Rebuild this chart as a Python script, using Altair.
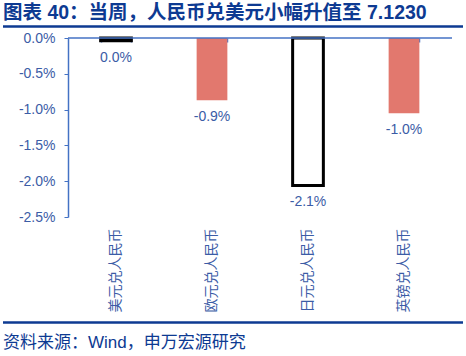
import altair as alt
import pandas as pd

categories = ["美元兑人民币", "欧元兑人民币", "日元兑人民币", "英镑兑人民币"]
values = [-0.04, -0.87, -2.06, -1.05]
value_labels = ["0.0%", "-0.9%", "-2.1%", "-1.0%"]
fills = ["#000000", "#e2786e", "#ffffff", "#e2786e"]
outlined = ["美元兑人民币", "日元兑人民币"]
y_ticks = [0, -0.5, -1.0, -1.5, -2.0, -2.5]

title_text = "图表 40：当周，人民币兑美元小幅升值至 7.1230"
source_text = "资料来源：Wind，申万宏源研究"

FONT = "Liberation Sans, Arial, Noto Sans CJK SC"
BLUE_AXIS = "#4472c4"
LABEL_BLUE = "#3b5ca6"
NAVY = "#0d3a92"

df = pd.DataFrame({"cat": categories, "val": values, "lab": value_labels})

xscale = alt.Scale(domain=categories, paddingInner=0.68, paddingOuter=0.34)
yscale = alt.Scale(domain=[-2.5, 0], nice=False, zero=False)
fill_enc = alt.Fill("cat:N", scale=alt.Scale(domain=categories, range=fills), legend=None)

yaxis = alt.Axis(values=y_ticks, grid=False, domainColor=BLUE_AXIS, tickColor=BLUE_AXIS,
                 tickSize=4, labelPadding=9, labelFontSize=14, labelColor=LABEL_BLUE,
                 labelFont=FONT, domainWidth=1.5, labelOverlap=False, labelFlush=False,
                 labelBound=False,
                 labelExpr="replace(format(datum.value, '.1f'), '\u2212', '-') + '%'")

base = alt.Chart(df)

bars = base.mark_bar().encode(
    x=alt.X("cat:N", scale=xscale, sort=categories, title=None,
            axis=alt.Axis(orient="bottom", domain=False, ticks=False, labelAngle=-90,
                          labelPadding=11, labelFontSize=14, labelColor=LABEL_BLUE,
                          labelFont=FONT, labelLimit=200)),
    y=alt.Y("val:Q", scale=yscale, title=None, axis=yaxis),
    y2=alt.datum(0),
    fill=fill_enc,
).transform_filter(alt.FieldOneOfPredicate(field="cat", oneOf=[c for c in categories if c not in outlined]))

outline_bars = base.mark_bar(stroke="#000000", strokeWidth=3).encode(
    x=alt.X("cat:N", scale=xscale, sort=categories, axis=None),
    y=alt.Y("val:Q", scale=yscale, title=None, axis=yaxis),
    y2=alt.datum(0),
    fill=fill_enc,
).transform_filter(alt.FieldOneOfPredicate(field="cat", oneOf=outlined))

texts = base.mark_text(baseline="middle", dy=17, fontSize=14, color=LABEL_BLUE, font=FONT).encode(
    x=alt.X("cat:N", scale=xscale, sort=categories, title=None,
            axis=alt.Axis(orient="top", domain=False, labels=False, tickBand="extent",
                          tickColor=BLUE_AXIS, tickSize=4, offset=-4, tickWidth=1.5)),
    y=alt.Y("val:Q", scale=yscale, title=None, axis=yaxis),
    text="lab:N",
)

zero_line = alt.Chart(pd.DataFrame({"z": [0]})).mark_rule(color=BLUE_AXIS, strokeWidth=1.5).encode(
    y=alt.Y("z:Q", scale=yscale, title=None, axis=yaxis)
)

title_mark = alt.Chart(pd.DataFrame({"t": [title_text]})).mark_text(
    align="left", baseline="middle", fontSize=19.5, fontWeight="bold", color=NAVY, font=FONT
).encode(x=alt.value(-65), y=alt.value(-25), text="t:N")

top_rule = alt.Chart(pd.DataFrame({"a": [1]})).mark_rule(color=NAVY, strokeWidth=2.5).encode(
    x=alt.value(-65), x2=alt.value(395), y=alt.value(-11.5)
)

bottom_rule = alt.Chart(pd.DataFrame({"a": [1]})).mark_rule(color=NAVY, strokeWidth=2.5).encode(
    x=alt.value(-65), x2=alt.value(395), y=alt.value(284.5)
)

source_mark = alt.Chart(pd.DataFrame({"s": [source_text]})).mark_text(
    align="left", baseline="middle", fontSize=17, color=NAVY, font=FONT
).encode(x=alt.value(-65), y=alt.value(305), text="s:N")

chart = alt.layer(
    bars, outline_bars, texts, zero_line, title_mark, top_rule, bottom_rule, source_mark
).resolve_axis(x="independent").properties(
    width=384, height=179,
    autosize=alt.AutoSizeParams(type="none"),
    padding={"left": 68, "top": 38, "right": 14, "bottom": 139},
    background="white",
).configure_view(stroke=None)

chart.save("out.html", embed_options={"renderer": "svg", "actions": False})
